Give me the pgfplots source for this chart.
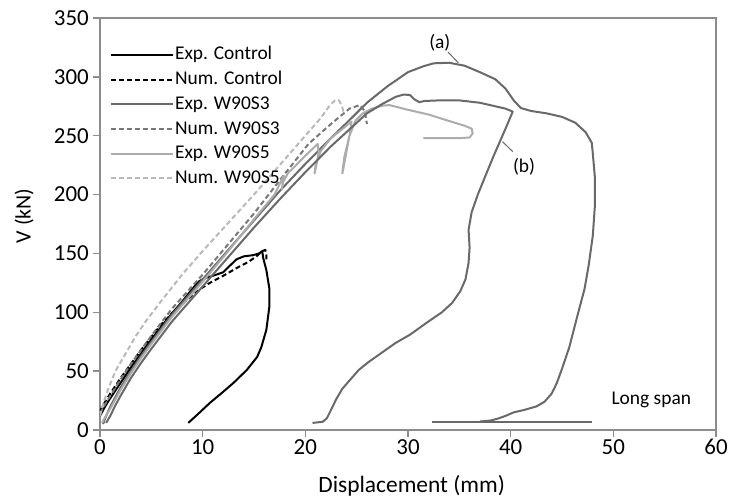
\documentclass[border=0pt]{standalone}
\usepackage{fontspec}
\setmainfont{Carlito}
\usepackage{pgfplots}
\pgfplotsset{compat=1.18}

\definecolor{axisgray}{RGB}{140,140,140}
\definecolor{darkg}{RGB}{105,105,105}
\definecolor{midg}{RGB}{120,120,120}
\definecolor{lightg}{RGB}{172,172,172}
\definecolor{lightgd}{RGB}{185,185,185}

\begin{document}
\begin{tikzpicture}
\path[use as bounding box] (-100bp,-70bp) rectangle (631bp,430bp);
\begin{axis}[
  at={(0,0)}, anchor=south west,
  scale only axis, width=616bp, height=412bp,
  xmin=0, xmax=60, ymin=0, ymax=350,
  xtick={0,10,...,60}, ytick={0,50,...,350},
  axis line style={axisgray, line width=1.3bp},
  tick style={axisgray, line width=1.3bp},
  major tick length=7bp,
  tick align=outside,
  xtick pos=bottom, ytick pos=left,
  /pgf/number format/assume math mode=true,
  ticklabel style={font=\fontsize{23}{26}\selectfont, text=black},
  xticklabel style={inner ysep=2bp},
  yticklabel style={inner xsep=4bp},
  xlabel={Displacement (mm)},
  ylabel={V (kN)},
  xlabel style={font=\fontsize{23.5}{26}\selectfont, text=black,
    at={(axis description cs:0.506,-0.135)}, anchor=center},
  ylabel style={font=\fontsize{22}{25}\selectfont, text=black,
    at={(axis description cs:-0.123,0.52)}, anchor=center},
  legend cell align=left,
  legend image code/.code={\draw[#1] (0bp,0bp) -- (62bp,0bp);},
  legend style={draw=none, fill=none, inner sep=0pt,
    at={(axis description cs:0.016,0.935)}, anchor=north west,
    row sep=4.7bp, column sep=0bp,
    font=\fontsize{19.5}{22}\selectfont,
    nodes={inner sep=1bp, text height=14bp, text depth=4bp}},
  every axis plot/.append style={line width=2bp, line join=round},
  numdash/.style={dash pattern=on 5bp off 3bp},
]

% Control specimen
\addplot[black] coordinates {
(0,12)(0.5,20)(1,27)(2,40)(3,53)(4,65)(5,77)(6,88)(7,99)(8,109)(9,120)
(9.6,126)(10.2,129)(11,131)(12,134)(12.7,140)(13.3,145)(14,147.5)(14.9,148.5)
(15.5,150)(15.8,152)(15.9,146)(16.2,136)(16.5,120)(16.5,105)(16.2,85)(15.7,70)
(15.3,62)(14.3,51)(13,40)(11.8,31)(10.7,23)(9.6,14)(8.6,6)};
\addlegendentry{Exp. Control}

\addplot[black, numdash] coordinates {
(0,16)(0.5,24)(1,31)(2,44)(3,56)(4,68)(5,79)(6,90)(7,99)(7.5,103)(8.8,113)
(9.8,120)(10.7,125)(12,131)(13.6,139)(14.5,143)(15.3,148)(15.8,152)(16.1,153)
(16.2,149)(16.2,145)};
\addlegendentry{Num. Control}

% W90S3, curve (a)
\addplot[darkg] coordinates {
(0.3,5)(0.6,12)(1,20)(1.5,28)(2,36)(3,50)(4,63)(5,75)(7,98)(10,128)(12.5,153)
(15,178)(17.5,203)(20,226)(22.5,248)(24.5,265)(26,278)(28,292)(30,304)
(31.5,309)(32.5,311.5)(34,312)(35.5,309.5)(37,304)(38.5,298)(39.5,290)
(40.3,280)(41,273.5)(42,271)(43.5,269)(45,266)(46.3,261)(47.3,253)(47.9,244)
(48,235)(48.2,215)(48.2,190)(48,165)(47.6,140)(47.2,120)(46.5,97)(45.7,70)
(45,52)(44.5,40)(44,31)(43.3,24)(42.5,20)(41.3,17)(40.3,15)(39.5,12)
(38.7,9.5)(38,8)(37,7.2)};
\addlegendentry{Exp. W90S3}

\addplot[midg, numdash] coordinates {
(0,14)(0.5,22)(1,29)(2,43)(3,56)(4,68)(5,80)(7,103)(10,132)(12.5,158)(15,184)
(17.5,212)(20.3,243)(22.5,260)(24.3,273)(25.3,276)(25.8,271)(25.9,265)(26,260)};
\addlegendentry{Num. W90S3}

\addplot[lightg] coordinates {
(0.2,6)(0.5,11)(1,18)(1.5,26)(2,34)(3,48)(4,61)(5,73)(7,96)(10,126)(12.5,152)
(15,179)(17,200)(17.9,216)(17.8,209)(17.7,204)(17.8,210)(18.3,218)(20,233)
(21.2,243)(21.3,236)(21.1,226)(20.9,218)(21,225)(21.5,237)(22.5,248)
(23.8,257)(24.5,262)(24.3,250)(24,236)(23.7,222)(23.6,218)(23.8,232)
(24.3,250)(24.9,263)(25.6,269)(26.5,273)(27.5,275.5)(28.2,276)(30,272)
(32,268)(34,262.5)(35.5,258.5)(36.2,256)(36.3,252)(36,248.5)(35.2,248)
(33,248)(31.5,248)};
\addlegendentry{Exp. W90S5}

\addplot[lightgd, numdash] coordinates {
(0,12)(0.3,22)(0.8,35)(1.5,50)(2.5,65)(3.5,80)(4.6,94)(6,110)(8,132)(10,152)
(12.5,176)(15,200)(17.5,225)(20,250)(21.5,265)(22.4,276)(22.9,280)(23.3,280)
(23.6,274)(23.8,268)};
\addlegendentry{Num. W90S5}

% W90S3, curve (b) and the residual line
\addplot[darkg, forget plot] coordinates {
(0.6,6)(1,12)(1.5,21)(2,29)(3,44)(4,57)(5,69)(7,92)(10,122)(12.5,147)(15,172)
(17.5,196)(20,219)(22.5,241)(24.5,257)(26,269)(27.5,277)(28.8,283)(29.6,285)
(30.2,284.5)(30.6,281)(31.1,278.5)(31.6,279.5)(33,280)(35,280)(37,278)
(38.5,275)(39.5,273)(40.2,270.5)(39.6,258)(39,246)(38.3,232)(37.5,215)
(36.8,200)(36.2,185)(35.9,170)(36,155)(35.9,142)(35.6,128)(35.1,118)
(34.3,108)(33.3,100)(31.8,91)(30.2,81)(28.8,74)(27.5,66)(26.2,58)(25.2,51)
(24.4,43)(23.6,35)(23,26)(22.5,17)(22.1,10)(21.7,7)(20.7,6)};
\addplot[darkg, forget plot] coordinates {(32.3,6.5)(47.9,6.5)};

% curve labels
\draw[darkg, line width=1bp] (axis cs:33.9,321) -- (axis cs:34.9,312);
\node[font=\fontsize{19.5}{22}\selectfont] at (axis cs:33.1,329) {(a)};
\draw[darkg, line width=1bp] (axis cs:39.2,245) -- (axis cs:40.2,236.5);
\node[font=\fontsize{19.5}{22}\selectfont] at (axis cs:41.3,224) {(b)};
\node[font=\fontsize{19.5}{22}\selectfont] at (axis cs:53.7,25.6) {Long span};
\end{axis}
\end{tikzpicture}
\end{document}
